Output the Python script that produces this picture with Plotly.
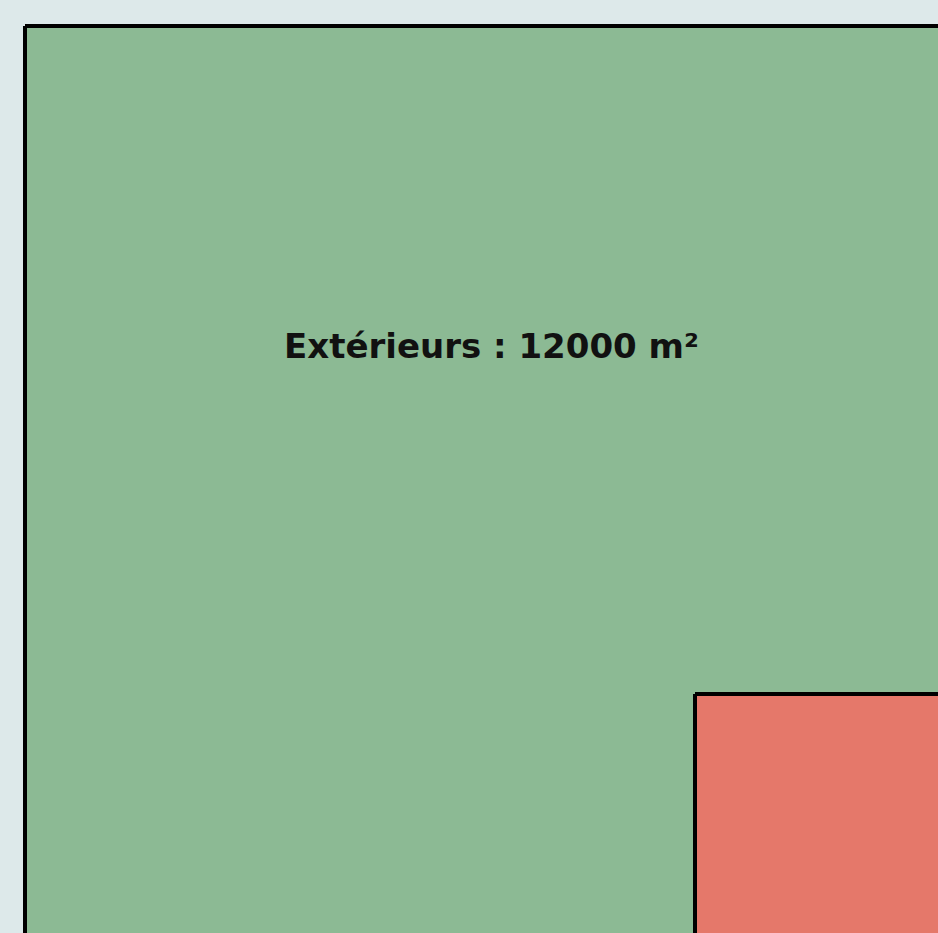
import math
import plotly.graph_objects as go

# Data
categories = ["Extérieurs", "Intérieurs"]
areas_m2 = [12000, 3000]
colors = ["#8cba94", "#e5786a"]
label_text = "Extérieurs : 12000 m²"

side = [math.sqrt(a) for a in areas_m2]
S = side[0]

fig = go.Figure()
for i, (cat, s) in enumerate(zip(categories, side)):
    x0 = S - s
    y0 = S - s
    xs = [x0, S, S, x0, x0]
    ys = [y0, y0, S, S, y0]
    fig.add_trace(go.Scatter(
        x=xs, y=ys, mode="lines", fill="toself",
        fillcolor=colors[i], line=dict(color="#000000", width=4),
        name=cat, hoverinfo="name", showlegend=False,
    ))

W, H = 938, 933
px_left, px_top = 25, 26
px_red_left, px_red_top = 695, 694
inner = S - side[1]
px_x = (px_red_left - px_left) / inner
px_y = (px_red_top - px_top) / inner

xr = [-px_left / px_x, (W - px_left) / px_x]
yr = [(H - px_top) / px_y, -px_top / px_y]

fig.add_annotation(
    x=(491 - px_left) / px_x, y=(346 - px_top) / px_y, xref="x", yref="y",
    text=f"<b>{label_text}</b>", showarrow=False,
    font=dict(family="DejaVu Sans, sans-serif", size=34, color="#111111"),
)

fig.update_layout(
    width=W, height=H,
    margin=dict(l=0, r=0, t=0, b=0),
    paper_bgcolor="#dde9ea", plot_bgcolor="#dde9ea",
    xaxis=dict(range=xr, visible=False, fixedrange=True),
    yaxis=dict(range=yr, visible=False, fixedrange=True),
)

fig.write_html(
    "out.html",
    config={"displayModeBar": False},
    post_script="document.body.style.margin='0';document.body.style.overflow='hidden';",
)
